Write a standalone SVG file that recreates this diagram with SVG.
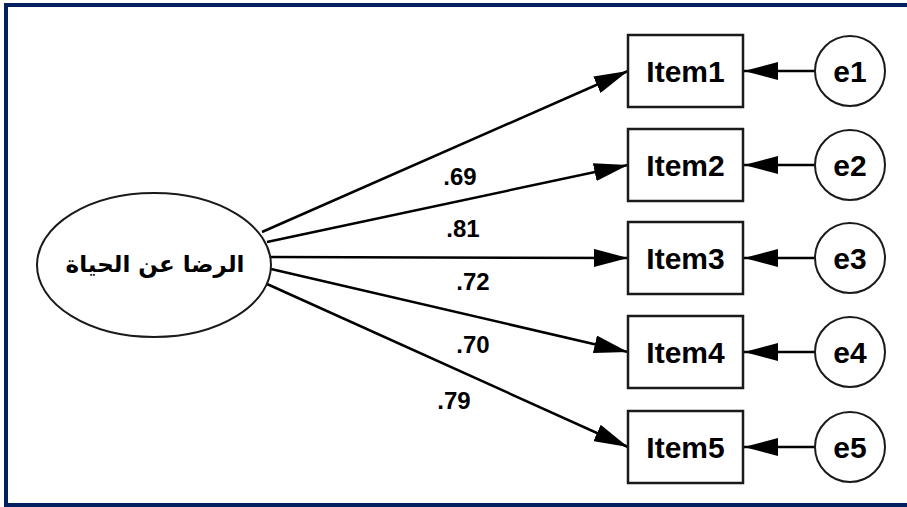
<svg xmlns="http://www.w3.org/2000/svg" width="907" height="507" viewBox="0 0 907 507">
<style>
.frame{fill:none;stroke:#022060;stroke-width:4}
.box{fill:#fff;stroke:#1a1a1a;stroke-width:2.5}
.circ{fill:#fff;stroke:#1a1a1a;stroke-width:2}
.lbl{font-family:"Liberation Sans",Arial,sans-serif;font-weight:bold;font-size:30px;fill:#000;text-anchor:middle}
.num{font-family:"Liberation Sans",Arial,sans-serif;font-weight:bold;font-size:24px;fill:#000;text-anchor:middle}
.ar{font-family:"DejaVu Sans",sans-serif;font-weight:bold;font-size:23px;fill:#000;text-anchor:middle}
.edge{stroke:#000;stroke-width:2.5;fill:none;marker-end:url(#ah)}
</style>
<defs>
<marker id="ah" markerUnits="userSpaceOnUse" viewBox="0 -9 34 18" refX="34" refY="0" markerWidth="34" markerHeight="18" orient="auto">
<path d="M0,-9 L34,0 L0,9 z" fill="#000"/>
</marker>
</defs>
<rect x="0" y="0" width="907" height="507" fill="#fff"/>
<rect class="frame" x="6" y="5" width="920" height="500"/>
<g id="connectors">
<line class="edge" x1="262" y1="232" x2="628" y2="71"/>
<line class="edge" x1="267" y1="242" x2="628" y2="165"/>
<line class="edge" x1="270" y1="257" x2="628" y2="258"/>
<line class="edge" x1="271" y1="269" x2="628" y2="352"/>
<line class="edge" x1="267" y1="284" x2="628" y2="447"/>
<line class="edge" x1="815" y1="71" x2="744" y2="71"/>
<line class="edge" x1="815" y1="165" x2="744" y2="165"/>
<line class="edge" x1="815" y1="258" x2="744" y2="258"/>
<line class="edge" x1="815" y1="352" x2="744" y2="352"/>
<line class="edge" x1="815" y1="447" x2="744" y2="447"/>
<text class="num" x="460" y="185">.69</text>
<text class="num" x="463" y="237">.81</text>
<text class="num" x="473" y="290">.72</text>
<text class="num" x="473" y="353">.70</text>
<text class="num" x="454" y="409">.79</text>
</g>
<g id="latent">
<ellipse cx="154" cy="265" rx="117" ry="72" fill="#fff" stroke="#1a1a1a" stroke-width="2"/>
<text class="ar" x="155" y="272" direction="rtl">الرضا عن الحياة</text>
</g>
<g id="item1"><rect class="box" x="628" y="35" width="115" height="72"/><text class="lbl" x="685.5" y="82">Item1</text></g>
<g id="item2"><rect class="box" x="628" y="129" width="115" height="72"/><text class="lbl" x="685.5" y="176">Item2</text></g>
<g id="item3"><rect class="box" x="628" y="222" width="115" height="72"/><text class="lbl" x="685.5" y="269">Item3</text></g>
<g id="item4"><rect class="box" x="628" y="316" width="115" height="72"/><text class="lbl" x="685.5" y="363">Item4</text></g>
<g id="item5"><rect class="box" x="628" y="411" width="115" height="72"/><text class="lbl" x="685.5" y="458">Item5</text></g>
<g id="e1"><circle class="circ" cx="850" cy="71" r="35"/><text class="lbl" x="850" y="82">e1</text></g>
<g id="e2"><circle class="circ" cx="850" cy="165" r="35"/><text class="lbl" x="850" y="176">e2</text></g>
<g id="e3"><circle class="circ" cx="850" cy="258" r="35"/><text class="lbl" x="850" y="269">e3</text></g>
<g id="e4"><circle class="circ" cx="850" cy="352" r="35"/><text class="lbl" x="850" y="363">e4</text></g>
<g id="e5"><circle class="circ" cx="850" cy="447" r="35"/><text class="lbl" x="850" y="458">e5</text></g>
</svg>
